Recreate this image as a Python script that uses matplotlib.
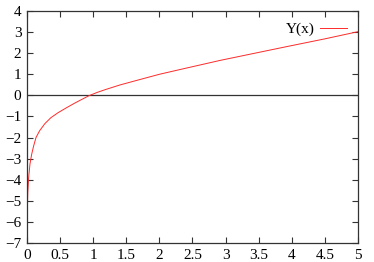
import matplotlib
matplotlib.use('Agg')
import matplotlib.pyplot as plt

# значения
x_vals = [0.004, 0.012, 0.025, 0.045, 0.07, 0.1, 0.136, 0.19, 0.27, 0.36,
          0.47, 0.6, 0.725, 0.835, 0.94, 1.06, 1.18, 1.4, 1.657, 2.0, 2.36,
          2.92, 3.92, 4.5, 5.0]
y_vals = [-5.5, -4.6, -3.9, -3.25, -2.8, -2.4, -2.0, -1.68, -1.34, -1.06,
          -0.82, -0.58, -0.36, -0.18, -0.01, 0.14, 0.27, 0.49, 0.71, 1.0, 1.26,
          1.66, 2.31, 2.68, 3.02]
x_ticks = [0, 0.5, 1, 1.5, 2, 2.5, 3, 3.5, 4, 4.5, 5]
x_labels = ['0', '0.5', '1', '1.5', '2', '2.5', '3', '3.5', '4', '4.5', '5']
y_ticks = list(range(-7, 5))

plt.rcParams['font.family'] = ['Liberation Serif', 'DejaVu Serif']

fig = plt.figure(figsize=(3.74, 2.62), dpi=100)
ax = fig.add_axes([0.0722, 0.0725, 0.885, 0.8855])

ax.axhline(0, color='#333333', lw=0.9, zorder=1)
ax.plot(x_vals, y_vals, color='#ff2a2a', lw=0.7, label='Y(x)', zorder=2)

ax.set_xlim(0, 5)
ax.set_ylim(-7, 4)
ax.set_xticks(x_ticks)
ax.set_xticklabels(x_labels)
ax.set_yticks(y_ticks)
ax.tick_params(direction='in', length=4, width=0.8, top=True, right=True,
               labelsize=11, colors='#333333', labelcolor='black', pad=4)
for s in ax.spines.values():
    s.set_color('#333333')
    s.set_linewidth(0.9)

ax.legend(loc='upper right', frameon=False, fontsize=11, handlelength=1.75,
          markerfirst=False, borderaxespad=0.35, handletextpad=0.3)

fig.savefig('out.png', dpi=100)
